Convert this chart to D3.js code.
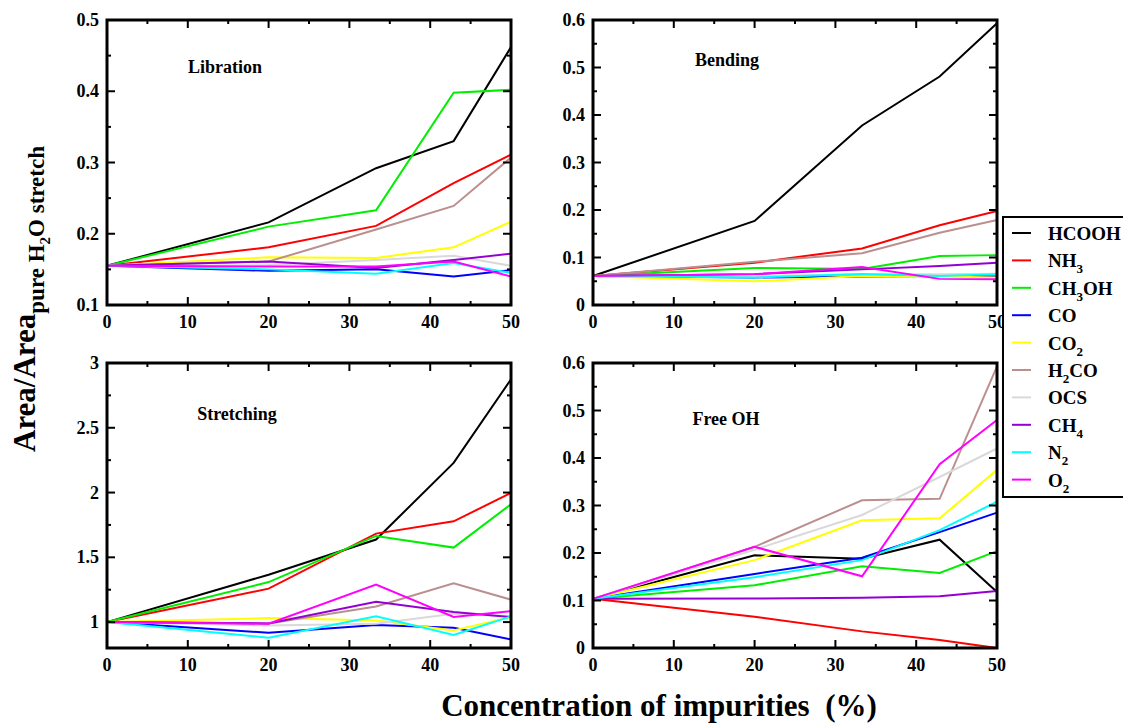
<!DOCTYPE html>
<html>
<head>
<meta charset="utf-8">
<script src="https://d3js.org/d3.v7.min.js"></script>
<style>
  body { margin: 0; background: #fff; }
</style>
</head>
<body>
<div id="chart"></div>
<script>
// concentration of impurities (%)
const conc = [0, 20, 33.3, 42.9, 50];

const species = ["HCOOH", "NH3", "CH3OH", "CO", "CO2", "H2CO", "OCS", "CH4", "N2", "O2"];
const colors = ["#000000", "#ff0000", "#00ee00", "#0000ff", "#ffff00", "#bc8f8f", "#d9d9d9", "#9400d3", "#00ffff", "#ff00ff"];

// Libration
const libration = {
  HCOOH: [0.155, 0.216, 0.292, 0.330, 0.462],
  NH3:   [0.155, 0.181, 0.211, 0.271, 0.311],
  CH3OH: [0.155, 0.210, 0.233, 0.398, 0.402],
  CO:    [0.155, 0.148, 0.150, 0.140, 0.149],
  CO2:   [0.155, 0.167, 0.166, 0.181, 0.217],
  H2CO:  [0.155, 0.161, 0.206, 0.239, 0.307],
  OCS:   [0.155, 0.156, 0.163, 0.169, 0.155],
  CH4:   [0.155, 0.161, 0.152, 0.163, 0.172],
  N2:    [0.155, 0.150, 0.144, 0.159, 0.145],
  O2:    [0.155, 0.154, 0.154, 0.161, 0.140]
};
// Bending
const bending = {
  HCOOH: [0.061, 0.177, 0.378, 0.481, 0.593],
  NH3:   [0.061, 0.089, 0.119, 0.168, 0.198],
  CH3OH: [0.061, 0.078, 0.076, 0.103, 0.105],
  CO:    [0.061, 0.058, 0.060, 0.061, 0.060],
  CO2:   [0.061, 0.050, 0.061, 0.060, 0.058],
  H2CO:  [0.061, 0.091, 0.109, 0.152, 0.179],
  OCS:   [0.061, 0.061, 0.065, 0.065, 0.066],
  CH4:   [0.061, 0.065, 0.075, 0.082, 0.089],
  N2:    [0.061, 0.058, 0.065, 0.061, 0.065],
  O2:    [0.061, 0.065, 0.080, 0.055, 0.054]
};
// Stretching
const stretching = {
  HCOOH: [1.0, 1.366, 1.637, 2.229, 2.874],
  NH3:   [1.0, 1.258, 1.683, 1.778, 1.997],
  CH3OH: [1.0, 1.309, 1.665, 1.575, 1.910],
  CO:    [1.0, 0.918, 0.977, 0.956, 0.866],
  CO2:   [1.0, 1.031, 1.013, 0.936, 1.039],
  H2CO:  [1.0, 0.990, 1.120, 1.300, 1.173],
  OCS:   [1.0, 0.974, 0.987, 1.064, 1.044],
  CH4:   [1.0, 0.990, 1.157, 1.077, 1.039],
  N2:    [1.0, 0.879, 1.044, 0.900, 1.044],
  O2:    [1.0, 0.987, 1.289, 1.039, 1.085]
};
// Free OH
const freeOH = {
  HCOOH: [0.1035, 0.195, 0.188, 0.228, 0.118],
  NH3:   [0.1035, 0.066, 0.035, 0.017, 0.000],
  CH3OH: [0.1035, 0.132, 0.172, 0.158, 0.204],
  CO:    [0.1035, 0.156, 0.190, 0.244, 0.285],
  CO2:   [0.1035, 0.185, 0.269, 0.273, 0.375],
  H2CO:  [0.1035, 0.213, 0.311, 0.314, 0.593],
  OCS:   [0.1035, 0.207, 0.280, 0.360, 0.420],
  CH4:   [0.1035, 0.104, 0.106, 0.109, 0.120],
  N2:    [0.1035, 0.149, 0.185, 0.248, 0.308],
  O2:    [0.1035, 0.213, 0.151, 0.387, 0.480]
};

const FONT = "'Liberation Serif', 'Times New Roman', serif";
const W = 1123, H = 723;
const svg = d3.select("#chart").append("svg").attr("width", W).attr("height", H);

// every text gets the serif face inline
function txt(sel) {
  return sel.append("text").style("font-family", FONT).style("font-weight", "bold");
}

const panels = [
  { title: "Libration",  data: libration,  x0: 107, y0: 20,  dom: [0.1, 0.5], major: 0.1, minor: 0.05, fmt: d3.format(".1f"), tx: 225, ty: 67 },
  { title: "Bending",    data: bending,    x0: 593, y0: 20,  dom: [0, 0.6],   major: 0.1, minor: 0.05, fmt: d => d === 0 ? "0" : d3.format(".1f")(d), tx: 727, ty: 60 },
  { title: "Stretching", data: stretching, x0: 107, y0: 363, dom: [0.8, 3],   major: 0.5, minor: 0.25, fmt: d => String(+d.toFixed(2)), tx: 237, ty: 414 },
  { title: "Free OH",    data: freeOH,     x0: 593, y0: 363, dom: [0, 0.6],   major: 0.1, minor: 0.05, fmt: d => d === 0 ? "0" : d3.format(".1f")(d), tx: 726, ty: 419 }
];
const pw = 404, ph = 285;

function range(a, b, s) {
  const out = [];
  for (let v = Math.ceil(a / s - 1e-9) * s; v <= b + 1e-9; v += s) out.push(+v.toFixed(4));
  return out;
}

panels.forEach(p => {
  const x = d3.scaleLinear().domain([0, 50]).range([p.x0, p.x0 + pw]);
  const y = d3.scaleLinear().domain(p.dom).range([p.y0 + ph, p.y0]);
  const g = svg.append("g");

  const line = d3.line().x((d, i) => x(conc[i])).y(d => y(d));
  species.forEach((s, i) => {
    g.append("path").attr("d", line(p.data[s]))
      .attr("fill", "none").attr("stroke", colors[i]).attr("stroke-width", 2)
      .attr("stroke-linejoin", "miter");
  });

  // ticks (inward, all four sides)
  const xMaj = range(0, 50, 10), xMin = range(0, 50, 5);
  const yMaj = range(p.dom[0], p.dom[1], p.major), yMin = range(p.dom[0], p.dom[1], p.minor);
  const tk = g.append("g").attr("stroke", "#000").attr("stroke-width", 2);
  xMin.forEach(v => {
    const L = xMaj.some(m => Math.abs(m - v) < 1e-6) ? 8 : 4;
    tk.append("line").attr("x1", x(v)).attr("x2", x(v)).attr("y1", p.y0 + ph).attr("y2", p.y0 + ph - L);
    tk.append("line").attr("x1", x(v)).attr("x2", x(v)).attr("y1", p.y0).attr("y2", p.y0 + L);
  });
  yMin.forEach(v => {
    const L = yMaj.some(m => Math.abs(m - v) < 1e-6) ? 8 : 4;
    tk.append("line").attr("y1", y(v)).attr("y2", y(v)).attr("x1", p.x0).attr("x2", p.x0 + L);
    tk.append("line").attr("y1", y(v)).attr("y2", y(v)).attr("x1", p.x0 + pw).attr("x2", p.x0 + pw - L);
  });

  g.append("rect").attr("x", p.x0).attr("y", p.y0).attr("width", pw).attr("height", ph)
    .attr("fill", "none").attr("stroke", "#000").attr("stroke-width", 3);

  xMaj.forEach(d => {
    txt(g).attr("x", x(d)).attr("y", p.y0 + ph + 23).attr("text-anchor", "middle")
      .attr("font-size", 18).text(d);
  });
  yMaj.forEach(d => {
    txt(g).attr("x", p.x0 - 8).attr("y", y(d) + 6).attr("text-anchor", "end")
      .attr("font-size", 18).text(p.fmt(d));
  });

  txt(g).attr("x", p.tx).attr("y", p.ty + 6).attr("text-anchor", "middle")
    .attr("font-size", 18).text(p.title);
});

// legend
const legendLabels = [
  ["HCOOH"], ["NH", "3"], ["CH", "3", "OH"], ["CO"], ["CO", "2"],
  ["H", "2", "CO"], ["OCS"], ["CH", "4"], ["N", "2"], ["O", "2"]
];
const leg = svg.append("g");
leg.append("rect").attr("x", 1003).attr("y", 217).attr("width", 130).attr("height", 280)
  .attr("fill", "#fff").attr("stroke", "#000").attr("stroke-width", 2);
legendLabels.forEach((parts, i) => {
  const yy = 233 + i * 27.4;
  leg.append("line").attr("x1", 1012).attr("x2", 1031).attr("y1", yy).attr("y2", yy)
    .attr("stroke", colors[i]).attr("stroke-width", 2);
  const t = txt(leg).attr("x", 1048).attr("y", yy + 7).attr("font-size", 19);
  parts.forEach((s, k) => {
    const sub = k % 2 === 1;
    const ts = t.append("tspan").text(s).attr("font-size", sub ? 13 : 19);
    if (sub) ts.attr("dy", 6);
    else if (k > 0) ts.attr("dy", -6);
  });
});

// axis titles
const yt = txt(svg).attr("transform", "translate(35,299) rotate(-90)")
  .attr("text-anchor", "middle").attr("font-size", 31);
yt.append("tspan").text("Area/Area");
yt.append("tspan").attr("font-size", 23).attr("dy", 9).text("pure H");
yt.append("tspan").attr("font-size", 15).attr("dy", 6).text("2");
yt.append("tspan").attr("font-size", 23).attr("dy", -6).text("O stretch");

txt(svg).attr("x", 659).attr("y", 716).attr("text-anchor", "middle")
  .attr("font-size", 31).text("Concentration of impurities\u00a0\u00a0(%)");
</script>
</body>
</html>
